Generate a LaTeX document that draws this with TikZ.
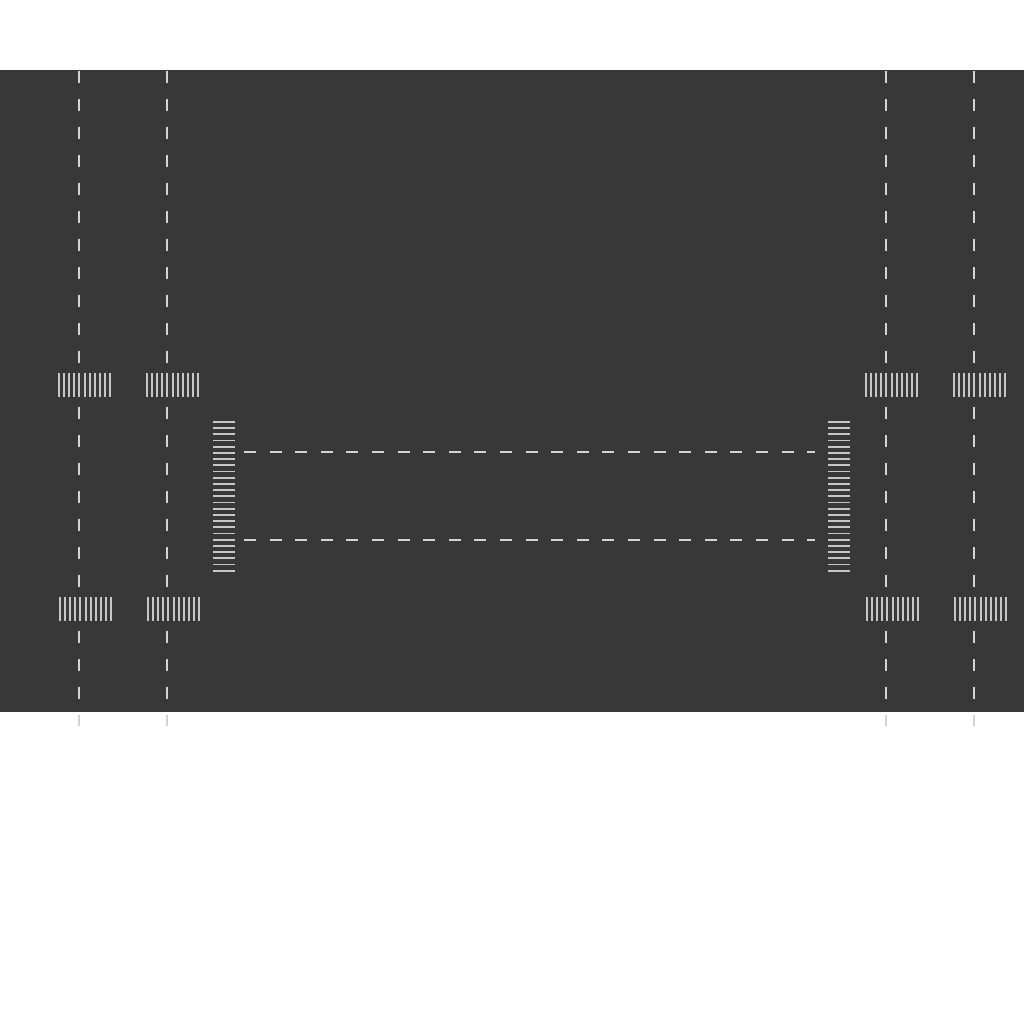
\documentclass[tikz,border=0pt]{standalone}
\usetikzlibrary{calc}
\definecolor{asphalt}{RGB}{56,56,56}
\definecolor{paint}{RGB}{212,212,212}
\definecolor{zebra}{RGB}{198,198,198}
\tikzset{
  road/.style        ={fill=asphalt, draw=none},
  lane/.style        ={draw=paint, line width=0.7mm, dash pattern=on 3mm off 4mm},
  midlane/.style     ={draw=paint, line width=0.5mm, dash pattern=on 3mm off 3.4mm},
  zebrastripe/.style ={fill=zebra, draw=none},
}
\begin{document}
\begin{tikzpicture}[x=0.25mm, y=-0.25mm]
    \useasboundingbox (0,0) rectangle (1024,1024);
    \fill[white] (0,0) rectangle (1024,1024);

    % asphalt
    \fill[road] (0,70) rectangle (1024,712);

    % vertical lanes
    \foreach \x in {79,167,886,974}{
      \draw[lane] (\x,71) -- (\x,726);
    }

    % horizontal lanes
    \foreach \y in {452,540}{
      \draw[midlane] (244,\y) -- (815,\y);
    }

    % crossings over the vertical lanes
    \foreach \x/\y in {58/373, 146/373, 865/373, 953/373,
                       59/597, 147/597, 866/597, 954/597}{
      \fill[road] (\x,\y) rectangle ++(53,24);
      \foreach \i in {0,...,10}{
        \fill[zebrastripe] (\x+\i*5.1,\y) rectangle ++(2,24);
      }
    }

    % crossings at the ends of the horizontal lanes
    \foreach \x in {213,828}{
      \foreach \i in {0,...,24}{
        \fill[zebrastripe] (\x,421+\i*6.2) rectangle ++(22,1.8);
      }
    }
\end{tikzpicture}
\end{document}
